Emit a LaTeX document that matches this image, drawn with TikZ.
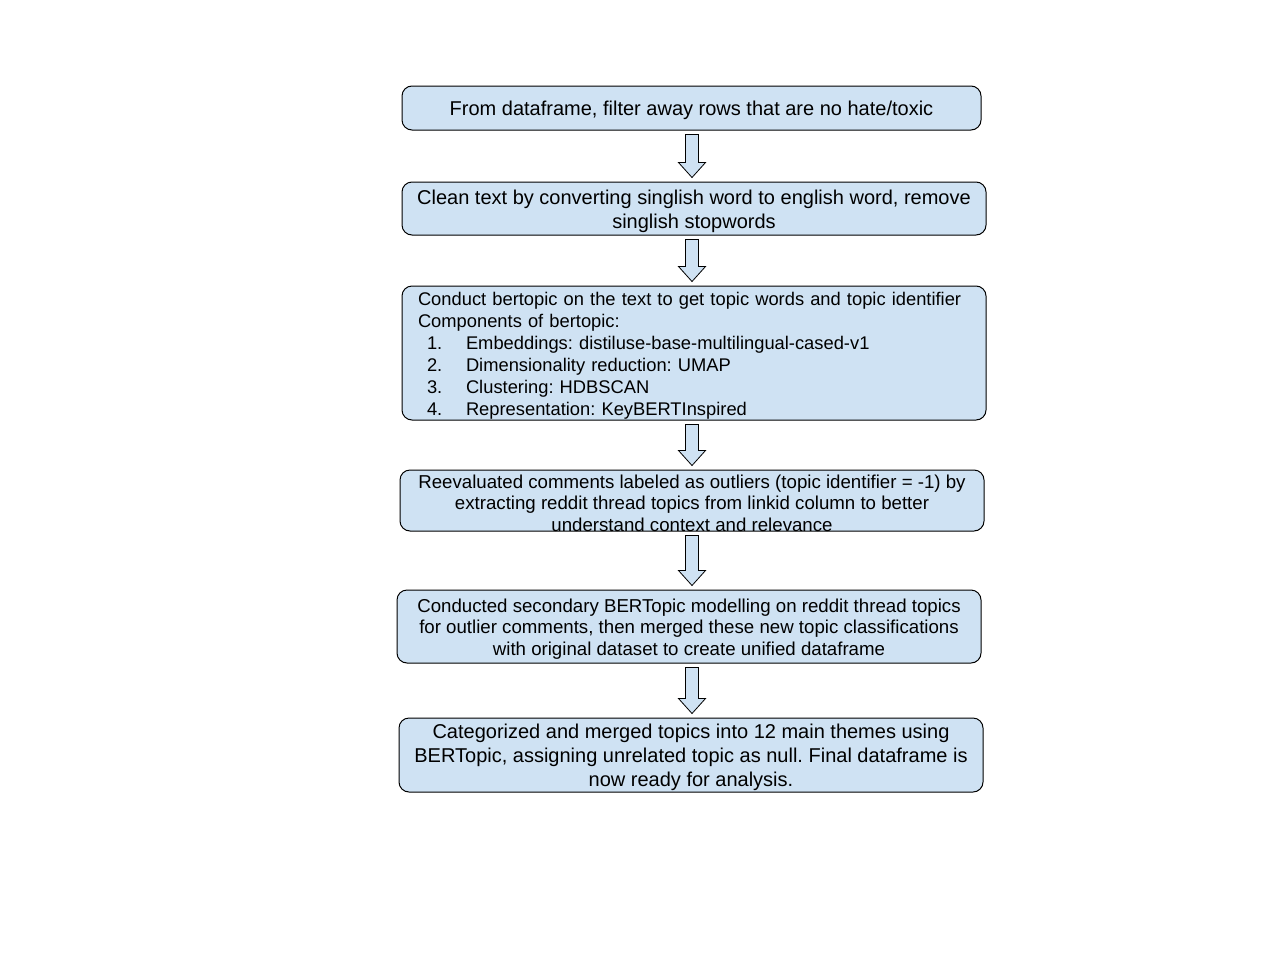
\documentclass[tikz,border=0pt]{standalone}
\usepackage{fontspec}
\setmainfont{Liberation Sans}
\usetikzlibrary{calc}
\definecolor{boxblue}{HTML}{CFE2F3}
\frenchspacing
\newcommand{\bigtxt}{\fontsize{15}{18}\selectfont}
\newcommand{\midtxt}{\fontsize{13.75}{16.5}\selectfont}
\newcommand{\smalltxt}{\fontsize{14}{16.3}\selectfont}
\newcommand{\topfix}{\rule{0pt}{1em}}
\newcommand{\blockdown}[2]{%
\filldraw[arrowbody] let \p1=(#1.south), \p2=(#2.north), \p3=(axis) in
 (\x3-4.875pt,\y1-3pt) -- (\x3+4.875pt,\y1-3pt) -- (\x3+4.875pt,\y2+14.25pt)
 -- (\x3+10.125pt,\y2+14.25pt) -- (\x3,\y2+3pt) -- (\x3-10.125pt,\y2+14.25pt)
 -- (\x3-4.875pt,\y2+14.25pt) -- cycle;}

\begin{document}
\begin{tikzpicture}[x=0.75pt,y=-0.75pt]
\tikzstyle{stage}=[draw=black, fill=boxblue, rounded corners=7.5pt, line width=0.75pt, minimum width=438pt, inner sep=0pt, align=center]
\tikzstyle{arrowbody}=[draw=black, fill=boxblue, line width=0.6pt, line join=miter]

\useasboundingbox[fill=white] (0,0) rectangle (1280,960);
\coordinate (axis) at (692,0);

\node[stage, minimum width=434.25pt, minimum height=33pt, font=\bigtxt] (filter) at (691.5,108)
 {\topfix From dataframe, filter away rows that are no hate/toxic};
\node[stage, minimum height=39.75pt, font=\bigtxt] (clean) at (694,208.5)
 {\topfix Clean text by converting singlish word to english word, remove\\singlish stopwords};
\node[stage, minimum height=100.5pt, inner xsep=12pt, text width=414pt, align=left, font=\midtxt] (bertopic) at (694,353)
 {\topfix Conduct bertopic on the text to get topic words and topic identifier\\
 Components of bertopic:\\
 \hspace*{6.75pt}\makebox[29.25pt][l]{1.}Embeddings: distiluse-base-multilingual-cased-v1\\
 \hspace*{6.75pt}\makebox[29.25pt][l]{2.}Dimensionality reduction: UMAP\\
 \hspace*{6.75pt}\makebox[29.25pt][l]{3.}Clustering: HDBSCAN\\
 \hspace*{6.75pt}\makebox[29.25pt][l]{4.}Representation: KeyBERTInspired};
\node[stage, minimum height=45.75pt, inner ysep=-2pt, font=\smalltxt] (outlier) at (692,500.5)
 {\topfix Reevaluated comments labeled as outliers (topic identifier = -1) by\\
 extracting reddit thread topics from linkid column to better\\
 understand context and relevance};
\node[stage, minimum height=54.75pt, font=\smalltxt] (secondary) at (689,626.5)
 {\topfix Conducted secondary BERTopic modelling on reddit thread topics\\
 for outlier comments, then merged these new topic classifications\\
 with original dataset to create unified dataframe};
\node[stage, minimum height=55.5pt, font=\bigtxt] (themes) at (691,755)
 {\topfix Categorized and merged topics into 12 main themes using\\
 BERTopic, assigning unrelated topic as null. Final dataframe is\\
 now ready for analysis.};

\blockdown{filter}{clean}
\blockdown{clean}{bertopic}
\blockdown{bertopic}{outlier}
\blockdown{outlier}{secondary}
\blockdown{secondary}{themes}
\end{tikzpicture}
\end{document}
